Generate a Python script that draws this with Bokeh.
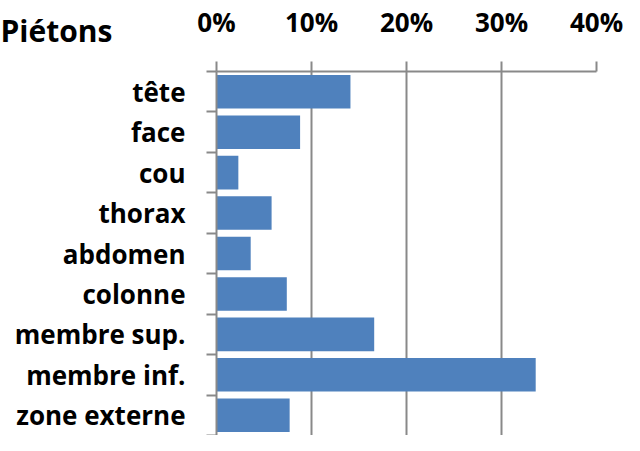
from bokeh.plotting import figure
from bokeh.models import Range1d, FixedTicker, NumeralTickFormatter, Title, ColumnDataSource
from bokeh.embed import file_html
from bokeh.resources import INLINE

title_text = "Piétons"
categories = ["tête", "face", "cou", "thorax", "abdomen", "colonne",
              "membre sup.", "membre inf.", "zone externe"]
values = [0.141, 0.088, 0.023, 0.058, 0.036, 0.074, 0.166, 0.336, 0.077]
x_ticks = [0.0, 0.1, 0.2, 0.3, 0.4]

FONT = "Open Sans"
GRAY = "#898989"
BAR = "#4F81BD"

idx = list(range(len(categories)))
src = ColumnDataSource(data=dict(y=idx, v=values, name=categories))

p = figure(width=624, height=435, output_backend="svg", toolbar_location=None,
           x_range=Range1d(0, 0.4), y_range=Range1d(len(idx) - 0.5, -0.5),
           x_axis_location="above", min_border_left=216, min_border_right=28,
           min_border_top=64, min_border_bottom=0)
p.outline_line_color = None
p.background_fill_color = "white"
p.border_fill_color = "white"

p.hbar(y="y", left=0, right="v", height=0.83, source=src,
       fill_color=BAR, line_color=None)

# x axis (top)
xa = p.xaxis[0]
xa.ticker = FixedTicker(ticks=x_ticks)
xa.formatter = NumeralTickFormatter(format="0%")
xa.axis_line_color = GRAY
xa.axis_line_width = 2
xa.major_tick_line_color = GRAY
xa.major_tick_line_width = 2
xa.major_tick_out = 10
xa.major_tick_in = 0
xa.minor_tick_line_color = None
xa.major_label_text_font = FONT
xa.major_label_text_font_style = "bold"
xa.major_label_text_font_size = "26px"
xa.major_label_text_color = "black"
xa.major_label_standoff = 22

# y axis (left)
ya = p.yaxis[0]
ya.ticker = FixedTicker(ticks=idx, minor_ticks=[i - 0.5 for i in idx] + [len(idx) - 0.5])
ya.major_label_overrides = {i: c for i, c in zip(idx, categories)}
ya.axis_line_color = GRAY
ya.axis_line_width = 2
ya.major_tick_line_color = None
ya.major_tick_out = 0
ya.major_tick_in = 0
ya.minor_tick_line_color = GRAY
ya.minor_tick_line_width = 2
ya.minor_tick_out = 10
ya.minor_tick_in = 0
ya.major_label_text_font = FONT
ya.major_label_text_font_style = "bold"
ya.major_label_text_font_size = "26px"
ya.major_label_text_color = "black"
ya.major_label_standoff = 21

p.xgrid.ticker = FixedTicker(ticks=x_ticks)
p.xgrid.grid_line_color = GRAY
p.xgrid.grid_line_width = 2
p.ygrid.grid_line_color = None

p.add_layout(Title(text=title_text, align="left", vertical_align="bottom",
                   offset=-216, standoff=-101,
                   text_font=FONT, text_font_style="bold", text_font_size="30px",
                   text_color="black"), "above")

open("out.html", "w").write(file_html(p, INLINE))
